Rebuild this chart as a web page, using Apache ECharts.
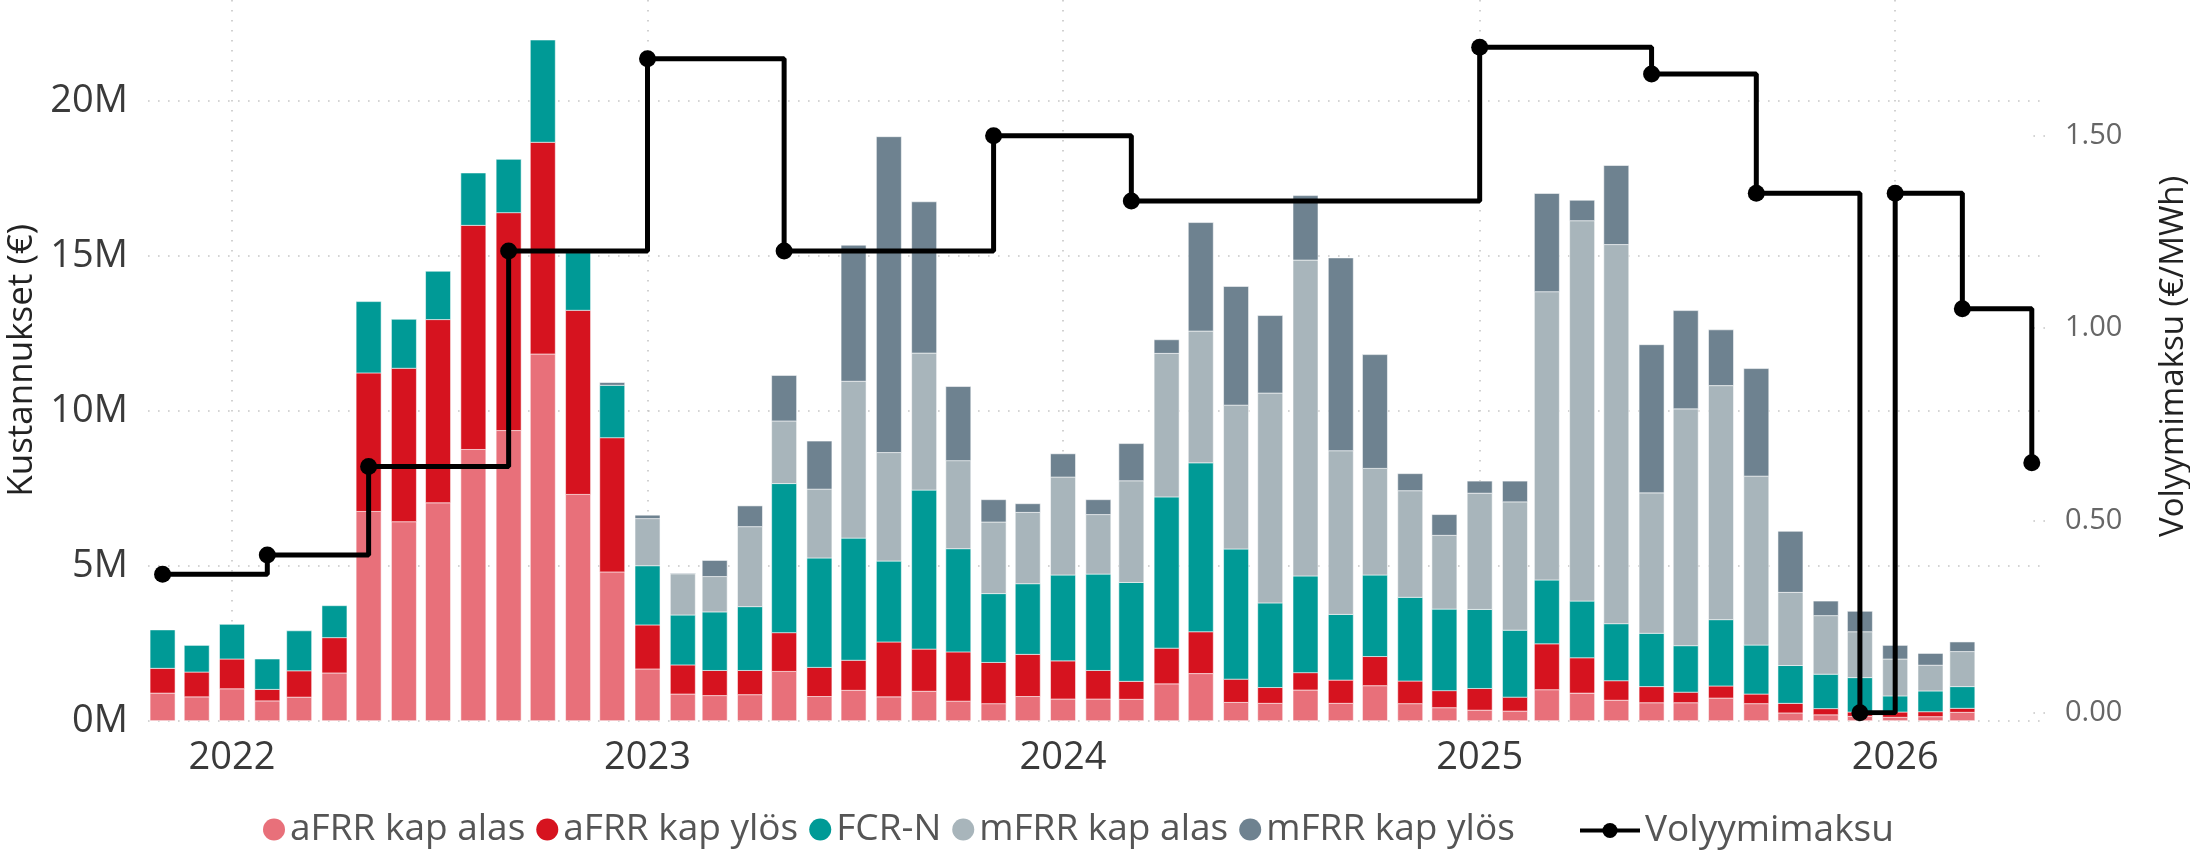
<!DOCTYPE html>
<html>
<head>
<meta charset="utf-8">
<script src="https://cdn.jsdelivr.net/npm/echarts@6/dist/echarts.min.js"></script>
<style>
  html, body { margin: 0; padding: 0; background: #fff; }
  #chart { width: 2190px; height: 857px; }
</style>
</head>
<body>
<div id="chart"></div>
<script>
"use strict";
// kuukaudet (palkit kuun 1. päivälle)
var months = [
  "2021-11", "2021-12",
  "2022-01", "2022-02", "2022-03", "2022-04", "2022-05", "2022-06",
  "2022-07", "2022-08", "2022-09", "2022-10", "2022-11", "2022-12",
  "2023-01", "2023-02", "2023-03", "2023-04", "2023-05", "2023-06",
  "2023-07", "2023-08", "2023-09", "2023-10", "2023-11", "2023-12",
  "2024-01", "2024-02", "2024-03", "2024-04", "2024-05", "2024-06",
  "2024-07", "2024-08", "2024-09", "2024-10", "2024-11", "2024-12",
  "2025-01", "2025-02", "2025-03", "2025-04", "2025-05", "2025-06",
  "2025-07", "2025-08", "2025-09", "2025-10", "2025-11", "2025-12",
  "2026-01", "2026-02", "2026-03"
];
// kustannukset, M€
var afrrAlas = [0.89, 0.77,
  1.03, 0.64, 0.76, 1.54, 6.75, 6.42, 7.03, 8.75, 9.36, 11.83, 7.30, 4.80,
  1.67, 0.86, 0.81, 0.84, 1.59, 0.78, 0.98, 0.77, 0.95, 0.63, 0.55, 0.78,
  0.70, 0.70, 0.69, 1.19, 1.52, 0.59, 0.56, 0.99, 0.56, 1.13, 0.55, 0.42,
  0.34, 0.31, 1.00, 0.89, 0.66, 0.58, 0.58, 0.73, 0.55, 0.25, 0.19, 0.14,
  0.11, 0.13, 0.27];
var afrrYlos = [0.80, 0.80,
  0.96, 0.37, 0.85, 1.14, 4.47, 4.95, 5.91, 7.23, 7.03, 6.83, 5.94, 4.33,
  1.42, 0.94, 0.81, 0.78, 1.25, 0.94, 0.97, 1.77, 1.36, 1.59, 1.33, 1.36,
  1.23, 0.92, 0.58, 1.15, 1.35, 0.75, 0.51, 0.56, 0.75, 0.94, 0.73, 0.55,
  0.70, 0.45, 1.48, 1.14, 0.63, 0.52, 0.34, 0.39, 0.31, 0.31, 0.20, 0.14,
  0.17, 0.16, 0.13];
var fcrN = [1.24, 0.86,
  1.12, 0.98, 1.29, 1.03, 2.30, 1.58, 1.56, 1.69, 1.72, 3.30, 1.86, 1.69,
  1.91, 1.61, 1.89, 2.06, 4.81, 3.53, 3.94, 2.61, 5.13, 3.33, 2.22, 2.28,
  2.77, 3.11, 3.19, 4.88, 5.45, 4.20, 2.73, 3.12, 2.12, 2.63, 2.70, 2.63,
  2.55, 2.16, 2.06, 1.83, 1.84, 1.72, 1.50, 2.14, 1.58, 1.22, 1.11, 1.11,
  0.52, 0.67, 0.70];
var mfrrAlas = [0, 0,
  0, 0, 0, 0, 0, 0, 0, 0, 0, 0, 0, 0,
  1.52, 1.33, 1.14, 2.58, 2.02, 2.22, 5.06, 3.50, 4.42, 2.84, 2.31, 2.30,
  3.16, 1.92, 3.28, 4.63, 4.25, 4.64, 6.77, 10.19, 5.28, 3.44, 3.44, 2.38,
  3.75, 4.14, 9.30, 12.27, 12.23, 4.53, 7.64, 7.55, 5.45, 2.36, 1.89, 1.48,
  1.19, 0.83, 1.13];
var mfrrYlos = [0, 0,
  0, 0, 0, 0, 0, 0, 0, 0, 0, 0, 0, 0.09,
  0.11, 0.02, 0.52, 0.67, 1.47, 1.55, 4.39, 10.19, 4.88, 2.39, 0.72, 0.28,
  0.75, 0.48, 1.20, 0.44, 3.50, 3.83, 2.50, 2.08, 6.22, 3.67, 0.55, 0.67,
  0.39, 0.67, 3.17, 0.66, 2.55, 4.78, 3.17, 1.80, 3.47, 1.97, 0.47, 0.66,
  0.44, 0.38, 0.31];
// volyymimaksu, €/MWh (muutoskohdat)
var feeDates = ["2021-11", "2022-02", "2022-05", "2022-09", "2023-01", "2023-05",
  "2023-11", "2024-03", "2025-01", "2025-06", "2025-09", "2025-12",
  "2026-01", "2026-03", "2026-05"];
var feeValues = [0.36, 0.41, 0.64, 1.20, 1.70, 1.20,
  1.50, 1.33, 1.73, 1.66, 1.35, 0.00,
  1.35, 1.05, 0.65];
var yearTicks = ["2022-01", "2023-01", "2024-01", "2025-01", "2026-01"];
var rightTicks = [0, 0.5, 1, 1.5];

var DAY = 86400000;
function ts(s) {
  var p = s.split("-");
  return Date.UTC(+p[0], +p[1] - 1, 1);
}
var xMin = ts("2022-01") - 73.8 * DAY;
var xMax = ts("2026-01") + 131.6 * DAY;
var FONT = "'Open Sans', 'DejaVu Sans', sans-serif";
var gridDots = {color: "#c6c6c6", width: 1.6, type: [1.6, 8.4]};
var BAR_W = 25;

var barDefs = [
  {name: "aFRR kap alas", data: afrrAlas, color: "#e8707a"},
  {name: "aFRR kap ylös", data: afrrYlos, color: "#d6131f"},
  {name: "FCR-N", data: fcrN, color: "#009a96"},
  {name: "mFRR kap alas", data: mfrrAlas, color: "#a8b5bb"},
  {name: "mFRR kap ylös", data: mfrrYlos, color: "#6e8290"}
];

// pinotaan itse: [aika, alaraja, yläraja]
var base = months.map(function () { return 0; });
var series = barDefs.map(function (b) {
  var rows = months.map(function (m, i) {
    var lo = base[i];
    base[i] = lo + b.data[i];
    return [ts(m), lo, base[i]];
  });
  return {
    name: b.name,
    type: "custom",
    xAxisIndex: 0,
    yAxisIndex: 0,
    itemStyle: {color: b.color},
    encode: {x: 0, y: [1, 2]},
    renderItem: function (params, api) {
      var lo = api.value(1), hi = api.value(2);
      if (hi - lo <= 0) return null;
      var p0 = api.coord([api.value(0), lo]);
      var p1 = api.coord([api.value(0), hi]);
      return {
        type: "rect",
        shape: {x: p0[0] - BAR_W / 2, y: p1[1], width: BAR_W, height: p0[1] - p1[1]},
        style: {fill: b.color, stroke: "rgba(255,255,255,0.55)", lineWidth: 1}
      };
    },
    data: rows
  };
});
series.push({
  name: "Volyymimaksu",
  type: "line",
  step: "end",
  xAxisIndex: 1,
  yAxisIndex: 1,
  z: 5,
  symbol: "circle",
  symbolSize: 17,
  color: "#000",
  lineStyle: {color: "#000", width: 5},
  itemStyle: {color: "#000"},
  data: feeDates.map(function (d, i) { return [ts(d), feeValues[i]]; })
});

var chart = echarts.init(document.getElementById("chart"));
chart.setOption({
  animation: false,
  backgroundColor: "#fff",
  textStyle: {fontFamily: FONT},
  grid: [
    {left: 148, right: 145, top: 0, height: 720.7, outerBoundsMode: "none", containLabel: false},
    {left: 148, right: 145, top: 0, height: 712.7, outerBoundsMode: "none", containLabel: false}
  ],
  legend: [
    {
      data: barDefs.map(function (b) { return b.name; }),
      icon: "circle",
      itemWidth: 22, itemHeight: 22, itemGap: 11,
      left: 263, top: 811, padding: 0,
      itemStyle: {borderWidth: 0},
      textStyle: {fontSize: 37, color: "#555", fontFamily: FONT}
    },
    {
      data: ["Volyymimaksu"],
      itemWidth: 60, itemHeight: 19,
      left: 1578, top: 812, padding: 0,
      lineStyle: {width: 4},
      textStyle: {fontSize: 37, color: "#555", fontFamily: FONT}
    }
  ],
  xAxis: [
    {
      type: "value", gridIndex: 0, min: xMin, max: xMax,
      axisLine: {show: false},
      axisTick: {show: false, customValues: yearTicks.map(ts)},
      axisLabel: {
        customValues: yearTicks.map(ts),
        fontSize: 38, color: "#3a3a3a", margin: 18, fontFamily: FONT,
        formatter: function (v) { return String(new Date(v).getUTCFullYear()); }
      },
      splitLine: {show: true, lineStyle: gridDots}
    },
    {
      type: "value", gridIndex: 1, min: xMin, max: xMax, show: false,
      splitLine: {show: false}
    }
  ],
  yAxis: [
    {
      type: "value", gridIndex: 0, position: "left",
      min: 0, max: 23.25, interval: 5,
      name: "Kustannukset (€)", nameLocation: "middle", nameGap: 104,
      nameTextStyle: {fontSize: 35, color: "#222", fontFamily: FONT},
      axisLine: {show: false}, axisTick: {show: false},
      axisLabel: {
        fontSize: 38, color: "#3a3a3a", margin: 20, showMaxLabel: false, fontFamily: FONT,
        formatter: function (v) { return v + "M"; }
      },
      splitLine: {show: true, showMaxLine: false, lineStyle: gridDots}
    },
    {
      type: "value", gridIndex: 1, position: "right",
      min: 0, max: 1.8526, interval: 0.5,
      name: "Volyymimaksu (€/MWh)", nameLocation: "middle", nameGap: 112,
      nameTextStyle: {fontSize: 33, color: "#222", fontFamily: FONT},
      axisLine: {show: false},
      axisTick: {show: true, inside: true, length: 12, customValues: rightTicks, lineStyle: gridDots},
      axisLabel: {
        fontSize: 29, color: "#666", margin: 20, fontFamily: FONT,
        customValues: rightTicks,
        formatter: function (v) { return v.toFixed(2); }
      },
      splitLine: {show: false}
    }
  ],
  series: series
});
</script>
</body>
</html>
